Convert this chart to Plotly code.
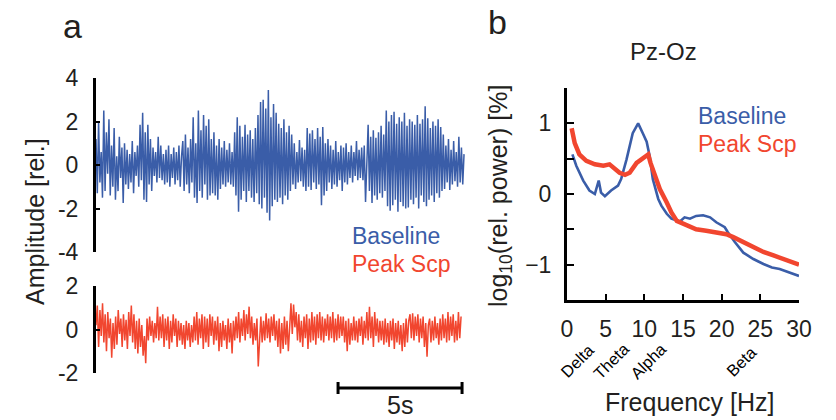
import numpy as np
import plotly.graph_objects as go

# ---------------- data ----------------
# Panel a: EEG traces (relative amplitude)
BASELINE_TRACE = [
    1.2, -1.3, 2.0, -0.8, 0.6, -1.5, 2.5, -1.2, 1.5, -0.4, 2.1, -1.4,
    0.9, -1.0, 1.7, -1.6, 0.4, -1.2, 1.3, -0.6, 0.8, -1.75, 1.0, -0.9,
    0.7, -1.1, 0.5, -0.8, 1.1, -1.3, 0.6, -0.5, 0.9, -1.0, 1.85, -0.7,
    2.4, -1.6, 1.5, -1.7, 1.85, -0.9, 1.2, -1.2,
    0.8, -0.5, 0.6, -0.8, 1.3, -0.6, 0.9, -0.7, 0.5, -0.9,
    0.7, -0.8, 0.9, -1.0, 0.5, -0.6, 0.8, -0.9, 0.6, -0.7, 0.9, -1.0, 0.4,
    1.1, -1.2, 1.4, -0.9, 0.8, -1.3, 1.2, -0.8,
    2.2, -1.5, 1.0, -1.75, 2.5, -1.2, 1.6, -1.5, 2.3, -0.9, 1.8, -1.6, 2.1, -1.4, 1.2, -1.3,
    1.5, -1.4, 0.9, -1.6, 1.2, -1.1, 0.8, -0.9, 1.1, -1.0, 0.7, -0.8, 1.0, -0.9, 0.6, -1.0,
    1.5, -1.4, 2.2, -2.15, 1.8, -1.6, 1.3, -1.2,
    1.85, -1.7, 1.4, -1.2, 1.6, -1.5, 1.2, -1.7, 1.7, -1.3,
    2.3, -1.8, 2.9, -2.0, 3.0, -1.5, 2.6, -2.2, 3.45, -2.55, 2.2, -1.9, 2.8, -1.6,
    2.4, -1.7, 1.9, -1.5, 1.7, -1.8, 2.1, -1.4, 1.5, -1.6, 1.8, -1.2, 1.4,
    -0.9, 1.0, -1.1, 0.6, -0.8, 1.15, -0.75, 0.8, -1.0, 0.7,
    -1.2, 1.7, -1.0, 1.45, -1.15, 1.6, -0.8, 1.2, -1.1, 1.7, -0.9, 1.3, -1.85,
    1.75, -1.4, 1.0, -1.2, 1.2, -0.8, 0.9, -1.1, 0.7, -0.9, 1.1, -1.0, 0.6, -0.7, 0.9, -1.2, 0.8, -0.8, 1.0, -0.9, 0.6,
    -0.6, 0.9, -0.8, 0.6, -0.5, 1.1, -0.7, 0.7, -0.6, 0.8, -0.7, 0.9, -1.7, 0.6,
    1.85, -1.2, 1.3, -1.75, 1.6, -1.4, 1.25, -1.6, 1.5, -1.3, 1.8, -1.5, 1.4, -1.2,
    2.5, -1.9, 2.0, -2.1, 2.3, -1.85, 2.45, -1.6, 1.9, -2.15, 2.2, -1.7, 2.0, -1.9, 2.4, -2.0, 1.8, -1.95, 2.1, -1.6,
    2.0, -1.8, 1.85, -1.5, 2.3, -2.0, 1.9, -1.4, 2.1, -1.7, 2.7, -1.9,
    2.15, -1.6, 1.7, -1.4, 2.0, -1.7, 1.8, -1.3, 2.1, -1.5, 1.75, -1.2,
    1.4, -1.1, 0.9, -0.8, 1.2, -1.15, 0.7, -0.9, 1.1, -0.75, 0.6, -1.0, 1.3, -0.8, 0.8, -0.9, 0.5,
]
PEAK_SCP_TRACE = [
    0.2, 1.1, -0.8, 0.9, -0.3, 1.2, -0.6, 0.7, -1.0, 0.8, -0.4,
    0.5, -1.3, 0.3, -0.9, 0.6,
    -0.7, 0.9, -0.2, 0.5, -0.8, 0.7, -0.5, 0.45, -0.9, 0.8, -0.3,
    1.1, -0.6, 0.7, -0.9, 0.4, -1.1, 0.5, -0.8, 0.2, -1.2, -0.3, -1.55,
    0.5, -0.5, 0.6, -0.3, 0.4, -0.6, 0.3, -0.4, 1.05, -0.5, 0.6,
    -0.4, 0.7, -0.8, 0.5, -0.5, 0.6, -0.9, 0.4, -0.6, 0.7, -0.3, 0.5, -0.8, 0.4, -0.5,
    0.3, -0.7, 0.2, -0.9, 0.4, -0.5, 0.3, -0.8, 0.2, -0.6,
    0.6, -0.5, 0.8, -0.7, 0.5, -0.4, 0.7, -0.9, 0.6, -0.6, 0.5, -0.8, 0.7, -0.3, 0.6, -0.7, 0.4, -0.5, 0.6, -1.0,
    0.3, -0.8, 0.4, -0.5, 0.2, -0.9, 0.5, -0.6, 0.3, -1.1, 0.4,
    -0.5, 0.6, -0.4, 0.8, -0.6, 0.5, -0.3, 0.9, -0.5, 0.7, -0.2, 1.05,
    -0.4, 0.6, -0.7, 0.3, -0.5, 0.5, -1.7, -0.2, 0.6, -0.6, 0.4,
    -0.5, 0.75, -0.4, 0.5, -0.6, 0.6, -0.3, 0.7, -0.5, 0.4,
    -0.8, 0.5, -1.1, 0.3, -0.9, 0.6, -0.7, 0.4, -1.0, 0.5,
    1.2, -0.2, 1.15, 0.1, 0.8,
    -0.5, 0.7, -0.6, 0.4, -0.8, 0.6, -0.4, 0.7, -0.9, 0.5, -0.6, 0.8, -0.5, 0.6, -0.7,
    0.7, -0.4, 0.8, -0.5, 0.6, -0.6, 0.5, -0.3, 0.7, -0.5, 0.6, -0.4, 0.8, -0.6, 0.5, -0.5, 0.7, -0.4, 0.6, -0.3,
    0.6, -0.6, 0.4, -1.0, 0.5, -0.7, 0.3, -0.5,
    0.6, -0.5, 0.4, -0.6, 0.5, -0.3, 0.6, -0.7, 0.4, -0.4,
    0.8, -0.5, 1.05, -0.4, 0.6, -0.8, 0.8, -0.3, 0.5, -0.6, 0.4,
    -0.5, 0.4, -0.7, 0.5, -0.6, 0.3, -0.8, 0.4, -0.5, 0.5, -0.9, 0.3, -0.6, 0.4, -0.7, 0.2, -1.0, 0.3, -0.8, 0.5, -0.6, 0.4,
    0.7, -0.4, 0.75, -0.5, 0.6, -0.3, 0.7, -0.6, 0.5, -0.4, 0.6, -0.8, 0.3, -1.25, 0.2,
    0.5, -0.6, 0.4, -0.5, 0.6, -0.4, 0.3, -0.7, 0.5, -0.5,
    0.7, -0.4, 0.5, -0.6, 0.8, -0.5, 0.6, -0.3, 0.7, -0.6, 0.4, -0.5, 0.8, -0.4, 0.6,
]
BASELINE_DURATION_S = 14.84
PEAK_SCP_DURATION_S = 14.72
SCALE_BAR_S = 5

AMP_TOP_TICKS = [-4, -2, 0, 2, 4]
AMP_TOP_LABELS = ["-4", "-2", "0", "2", "4"]
AMP_BOT_TICKS = [-2, 0, 2]
AMP_BOT_LABELS = ["-2", "0", "2"]

# Panel b: power spectra, Pz-Oz
BASELINE_FREQ = [0.7, 1.2, 2.1, 2.9, 3.6, 3.9, 4.1, 4.4, 4.9, 5.7, 6.6, 7.0, 7.7, 8.5, 9.2,
                 9.8, 10.3, 10.7, 11.1, 11.8, 12.2, 12.9, 13.5, 14.6, 15.2, 15.9, 16.7,
                 17.6, 18.5, 19.3, 20.4, 20.8, 21.7, 22.8, 24.1, 25.4, 26.5, 27.5, 28.8, 30.0]
BASELINE_POWER = [0.56, 0.40, 0.19, 0.05, 0.0, 0.12, 0.19, 0.02, -0.03, 0.05, 0.12, 0.21, 0.49,
                  0.86, 1.0, 0.86, 0.74, 0.53, 0.21, -0.07, -0.165, -0.28, -0.35, -0.39, -0.33,
                  -0.35, -0.31, -0.30, -0.33, -0.40, -0.47, -0.54, -0.68, -0.83, -0.92, -0.99,
                  -1.04, -1.06, -1.11, -1.16]
PEAK_SCP_FREQ = [0.6, 1.0, 1.6, 2.5, 3.6, 4.7, 5.5, 6.2, 6.8, 7.5, 8.1, 9.0, 9.8, 10.5, 10.8,
                 11.4, 12.0, 12.9, 13.5, 14.2, 15.0, 15.9, 16.7, 18.0, 19.3, 20.6, 21.5, 22.8,
                 24.1, 25.4, 26.7, 28.0, 29.2, 30.0]
PEAK_SCP_POWER = [0.93, 0.72, 0.56, 0.47, 0.42, 0.40, 0.42, 0.35, 0.30, 0.27, 0.30, 0.44, 0.51,
                  0.56, 0.44, 0.23, 0.07, -0.12, -0.26, -0.38, -0.42, -0.45, -0.50, -0.52, -0.54,
                  -0.57, -0.61, -0.68, -0.75, -0.82, -0.87, -0.92, -0.97, -1.0]
FREQ_TICKS = [0, 5, 10, 15, 20, 25, 30]
POWER_TICKS = [-1, 0, 1]
POWER_LABELS = ["\u22121", "0", "1"]
POWER_MINOR_TICKS = [-1.5, -0.5, 0.5, 1.5]
BAND_LABELS = ["Delta", "Theta", "Alpha", "Beta"]
BAND_LABEL_HZ = [1.3, 5.7, 10.5, 22.6]

SERIES_NAMES = ["Baseline", "Peak Scp"]

# ---------------- style ----------------
W, H = 836, 420
BLUE = "#3a5da8"
RED = "#f1462f"
TXT = "#231f20"
FONT = "Liberation Sans, Arial, sans-serif"


def px(x):
    return x / W


def py(y):
    return 1 - y / H


t_base = np.linspace(0, BASELINE_DURATION_S, len(BASELINE_TRACE))
t_scp = np.linspace(0, PEAK_SCP_DURATION_S, len(PEAK_SCP_TRACE))

fig = go.Figure()
fig.add_trace(go.Scatter(x=t_base, y=BASELINE_TRACE, mode="lines", name=SERIES_NAMES[0],
                         line=dict(color=BLUE, width=1.5), xaxis="x", yaxis="y",
                         showlegend=False))
fig.add_trace(go.Scatter(x=t_scp, y=PEAK_SCP_TRACE, mode="lines", name=SERIES_NAMES[1],
                         line=dict(color=RED, width=1.5), xaxis="x2", yaxis="y2",
                         showlegend=False))
fig.add_trace(go.Scatter(x=BASELINE_FREQ, y=BASELINE_POWER, mode="lines", name=SERIES_NAMES[0],
                         line=dict(color=BLUE, width=2.6), xaxis="x3", yaxis="y3",
                         showlegend=False))
fig.add_trace(go.Scatter(x=PEAK_SCP_FREQ, y=PEAK_SCP_POWER, mode="lines", name=SERIES_NAMES[1],
                         line=dict(color=RED, width=4.5), xaxis="x3", yaxis="y3",
                         showlegend=False))

time_range = [0, (466 - 96) / 24.8]
tick_font = dict(family=FONT, size=23, color=TXT)

yaxis_common = dict(showline=True, linewidth=3, linecolor="black", ticks="inside",
                    ticklen=4, tickwidth=2, tickcolor="black", showgrid=False,
                    zeroline=False, tickfont=tick_font, ticklabelstandoff=10,
                    automargin=False)

fig.update_layout(
    width=W, height=H, margin=dict(l=0, r=0, t=0, b=0, autoexpand=False),
    paper_bgcolor="white", plot_bgcolor="white",
    font=dict(family=FONT, color=TXT),
    xaxis=dict(domain=[px(96), px(466)], range=time_range, visible=False, anchor="y",
               automargin=False),
    yaxis=dict(domain=[py(252), py(78)], range=[-4, 4], anchor="x",
               tickvals=AMP_TOP_TICKS, ticktext=AMP_TOP_LABELS, **yaxis_common),
    xaxis2=dict(domain=[px(96), px(466)], range=time_range, visible=False, anchor="y2",
                automargin=False),
    yaxis2=dict(domain=[py(373), py(286)], range=[-2, 2], anchor="x2",
                tickvals=AMP_BOT_TICKS, ticktext=AMP_BOT_LABELS, **yaxis_common),
    xaxis3=dict(domain=[px(567), px(799)], range=[0, 30], anchor="y3",
                showline=True, linewidth=3, linecolor="black", ticks="inside", ticklen=6,
                tickwidth=2, tickcolor="black", tickvals=FREQ_TICKS, showgrid=False,
                zeroline=False, tickfont=tick_font, ticklabelstandoff=6, automargin=False),
    yaxis3=dict(domain=[py(300), py(88)], range=[-1.5, 1.5], anchor="x3",
                showline=True, linewidth=3, linecolor="black", ticks="inside", ticklen=7,
                tickwidth=2, tickcolor="black", tickvals=POWER_TICKS, ticktext=POWER_LABELS,
                minor=dict(tickvals=POWER_MINOR_TICKS, ticks="inside", ticklen=7,
                           tickwidth=2, tickcolor="black", showgrid=False),
                showgrid=False, zeroline=False, tickfont=tick_font, ticklabelstandoff=8,
                automargin=False),
)

# scale bar (5 s) under the Peak Scp trace
sb_end = PEAK_SCP_DURATION_S + 0.04
sb_start = sb_end - SCALE_BAR_S
fig.add_shape(type="line", xref="x2", yref="paper", x0=sb_start, x1=sb_end,
              y0=py(388), y1=py(388), line=dict(color="black", width=3))
for xv in (sb_start, sb_end):
    fig.add_shape(type="line", xref="x2", yref="paper", x0=xv, x1=xv,
                  y0=py(382), y1=py(394), line=dict(color="black", width=3))

ann = []


def add_text(text, x, y, size, color=TXT, angle=0, xanchor="center", xref="paper",
             yanchor="middle"):
    ann.append(dict(text=text, x=x, y=y, xref=xref, yref="paper", showarrow=False,
                    xanchor=xanchor, yanchor=yanchor, textangle=angle, borderpad=0,
                    font=dict(family=FONT, size=size, color=color)))


add_text("a", px(72), py(26), 34)
add_text("b", px(497), py(22), 34)
add_text("Amplitude [rel.]", px(35), py(222), 25, angle=-90)
add_text(f"{SCALE_BAR_S}s", (sb_start + sb_end) / 2, py(420), 25, xref="x2",
         yanchor="bottom")
add_text(SERIES_NAMES[0], px(351), py(236), 23, color=BLUE, xanchor="left")
add_text(SERIES_NAMES[1], px(351), py(264), 23, color=RED, xanchor="left")
add_text("Pz-Oz", px(663), py(51), 24)
add_text(SERIES_NAMES[0], px(697), py(116), 23, color=BLUE, xanchor="left")
add_text(SERIES_NAMES[1], px(697), py(144), 23, color=RED, xanchor="left")
add_text("log<sub>10</sub>(rel. power) [%]", px(500), py(196), 25, angle=-90)
add_text("Frequency [Hz]", px(690), py(402), 25)
for lbl, hz in zip(BAND_LABELS, BAND_LABEL_HZ):
    ann.append(dict(text=lbl, x=hz, y=py(361), xref="x3", yref="paper", showarrow=False,
                    xanchor="center", yanchor="middle", textangle=-45,
                    font=dict(family=FONT, size=16.5, color="black")))

fig.update_layout(annotations=ann)
fig.write_html(
    "out.html",
    config={"displayModeBar": False},
    post_script="document.body.style.margin='0px';document.body.style.overflow='hidden';",
)
